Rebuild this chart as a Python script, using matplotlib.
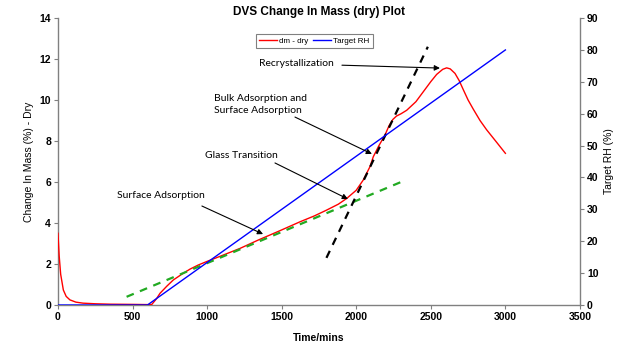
import matplotlib
matplotlib.use("Agg")
import matplotlib.pyplot as plt

# data
time_mass = [0, 8, 18, 36, 55, 80, 120, 168, 250, 350, 500, 600, 628, 660, 684, 730, 773, 830, 885,
             940, 997, 1050, 1109, 1220, 1343, 1480, 1623, 1720, 1801, 1880, 1936, 2000, 2047, 2092,
             2114, 2150, 2193, 2220, 2245, 2270, 2300, 2338, 2400, 2449, 2500, 2539, 2580, 2606, 2630,
             2662, 2690, 2718, 2750, 2785, 2830, 2874, 2940, 3000]
dm_dry = [3.5, 2.4, 1.5, 0.73, 0.42, 0.25, 0.14, 0.09, 0.06, 0.04, 0.03, 0.02, 0.02, 0.3, 0.57, 0.92,
          1.22, 1.50, 1.75, 1.95, 2.12, 2.27, 2.44, 2.76, 3.17, 3.6, 4.06, 4.35, 4.63, 4.92, 5.2, 5.6,
          6.1, 6.75, 7.23, 7.75, 8.3, 8.75, 9.05, 9.22, 9.33, 9.5, 9.92, 10.4, 10.9, 11.25, 11.5, 11.57,
          11.52, 11.3, 10.95, 10.5, 10.0, 9.55, 9.0, 8.55, 7.95, 7.4]

time_rh = [0, 600, 3000]
target_rh = [0, 0, 80]

surface_fit_t = [460, 2300]
surface_fit_y = [0.4, 6.0]
bulk_fit_t = [1800, 2480]
bulk_fit_y = [2.3, 12.6]

labels = ["Recrystallization", "Bulk Adsorption and\nSurface Adsorption",
          "Glass Transition", "Surface Adsorption"]
label_xy = [(1348, 11.76), (1046, 9.78), (986, 7.27), (396, 5.32)]
arrow_start = [(1904, 11.7), (1589, 9.17), (1455, 6.93), (965, 4.83)]
arrow_tip = [(2561, 11.56), (2105, 7.37), (1944, 5.17), (1375, 3.46)]

grey = "#808080"
tick_font = {"family": "Liberation Sans", "weight": "bold", "size": 7.5}

fig = plt.figure(figsize=(6.4, 3.54), dpi=100)
ax = fig.add_axes([0.0906, 0.1384, 0.8156, 0.8106])
ax2 = ax.twinx()

l1, = ax.plot(time_mass, dm_dry, color="red", lw=1.0, label="dm - dry", zorder=3)
ax.plot(surface_fit_t, surface_fit_y, color="#22aa22", lw=1.6, ls=(0, (3.5, 3)), zorder=4)
ax.plot(bulk_fit_t, bulk_fit_y, color="black", lw=1.6, ls=(0, (3.5, 3)), zorder=4)
l2, = ax2.plot(time_rh, target_rh, color="blue", lw=1.0, label="Target RH")

ax.set_xlim(0, 3500)
ax.set_ylim(0, 14)
ax2.set_ylim(0, 90)
ax.set_xticks(range(0, 3501, 500))
ax.set_yticks(range(0, 15, 2))
ax2.set_yticks(range(0, 91, 10))

for a in (ax, ax2):
    for s in a.spines.values():
        s.set_color(grey)
        s.set_linewidth(1.0)
    a.spines["top"].set_visible(False)
    a.tick_params(direction="out", length=3, color=grey, pad=2)
    for lab in a.get_xticklabels() + a.get_yticklabels():
        lab.set_fontproperties(tick_font)
ax.spines["right"].set_visible(False)
ax2.spines["left"].set_visible(False)
ax2.spines["bottom"].set_visible(False)

ax.set_xlabel("Time/mins", family="Liberation Sans", weight="bold", size=7.5, labelpad=8)
ax.set_ylabel("Change In Mass (%) - Dry", family="Liberation Sans", size=7.5, labelpad=4)
ax2.set_ylabel("Target RH (%)", family="Liberation Sans", size=7.5, labelpad=4)
ax.set_title("DVS Change In Mass (dry) Plot", family="Liberation Sans", weight="bold", size=8.5, pad=-5)

leg = fig.legend([l1, l2], ["dm - dry", "Target RH"], loc="center", bbox_to_anchor=(0.491, 0.883),
                 ncol=2, fancybox=False, edgecolor=grey, framealpha=1,
                 prop={"family": "Liberation Sans", "size": 5.8},
                 handlelength=2.2, handletextpad=0.3, columnspacing=0.6, borderpad=0.4)
leg.get_frame().set_linewidth(0.8)

for txt, xy, st, tip in zip(labels, label_xy, arrow_start, arrow_tip):
    ax2.text(xy[0], xy[1] * 90 / 14, txt, family="Lato", size=7.5, ha="left", va="center",
             linespacing=1.3)
    ax2.annotate("", xy=(tip[0], tip[1] * 90 / 14), xytext=(st[0], st[1] * 90 / 14),
                 arrowprops=dict(arrowstyle="-|>", color="black", lw=0.8,
                                 mutation_scale=8, shrinkA=0, shrinkB=0))

fig.savefig("out.png", dpi=100)
